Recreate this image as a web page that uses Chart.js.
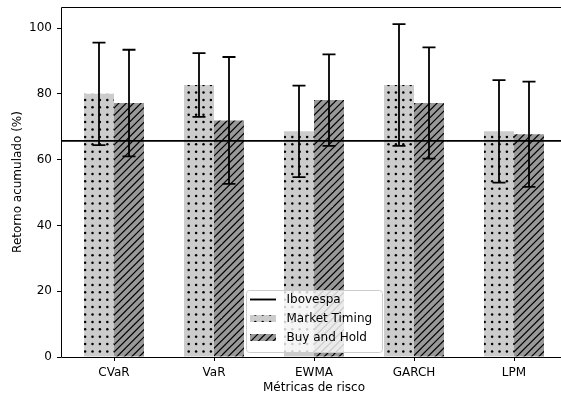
<!DOCTYPE html>
<html>
<head>
<meta charset="utf-8">
<script src="https://cdn.jsdelivr.net/npm/chart.js@4"></script>
<style>
  html, body { margin: 0; padding: 0; background: #fff; overflow: hidden; }
  #wrap { width: 561px; height: 395px; overflow: hidden; }
  canvas { display: block; }
</style>
</head>
<body>
<div id="wrap"><canvas id="chart" width="600" height="395"></canvas></div>
<script>
  // ---- data ----
  const categories = ['CVaR', 'VaR', 'EWMA', 'GARCH', 'LPM'];
  const mtValues = [80.0, 82.7, 68.6, 82.7, 68.6];   // Market Timing
  const mtErr = [15.6, 9.7, 13.9, 18.5, 15.6];
  const bhValues = [77.2, 71.9, 78.1, 77.2, 67.7];   // Buy and Hold
  const bhErr = [16.2, 19.3, 13.9, 16.9, 16.0];
  const ibovespa = 65.7;
  const yTicks = [0, 20, 40, 60, 80, 100];

  const FONT = '"DejaVu Sans", "Liberation Sans", sans-serif';

  // ---- hatch patterns (37px tile, 5 repeats of 7.4px) ----
  function makePattern(kind) {
    const c = document.createElement('canvas');
    c.width = 37; c.height = 37;
    const g = c.getContext('2d');
    const step = 7.4;
    if (kind === 'dots') {
      g.fillStyle = '#cccccc';
      g.fillRect(0, 0, 37, 37);
      g.fillStyle = '#000';
      for (let i = 0; i < 5; i++) {
        for (let j = 0; j < 5; j++) {
          g.beginPath();
          g.arc(i * step + 3.7, j * step + 3.7, 1.25, 0, Math.PI * 2);
          g.fill();
        }
      }
    } else {
      g.fillStyle = '#999999';
      g.fillRect(0, 0, 37, 37);
      g.strokeStyle = '#000';
      g.lineWidth = 1.2;
      for (let k = -1; k <= 11; k++) {
        const cst = k * step;
        g.beginPath();
        g.moveTo(cst + 1, -1);
        g.lineTo(cst - 38, 38);
        g.stroke();
      }
    }
    return g.createPattern(c, 'repeat');
  }

  const ctx0 = document.getElementById('chart').getContext('2d');
  const dotFill = makePattern('dots');
  const hatchFill = makePattern('hatch');

  const overlay = {
    id: 'overlay',
    afterDatasetsDraw(chart) {
      const { ctx, chartArea: a, scales: { y } } = chart;
      ctx.save();
      // Ibovespa reference line
      const yi = y.getPixelForValue(ibovespa);
      ctx.strokeStyle = '#000';
      ctx.lineWidth = 1.9;
      ctx.beginPath();
      ctx.moveTo(a.left, yi);
      ctx.lineTo(a.right, yi);
      ctx.stroke();

      // error bars
      [mtErr, bhErr].forEach((errs, di) => {
        const meta = chart.getDatasetMeta(di);
        const vals = di === 0 ? mtValues : bhValues;
        meta.data.forEach((bar, i) => {
          const top = y.getPixelForValue(vals[i] + errs[i]);
          const bot = y.getPixelForValue(vals[i] - errs[i]);
          ctx.lineWidth = 1.8;
          ctx.beginPath();
          ctx.moveTo(bar.x, top);
          ctx.lineTo(bar.x, bot);
          ctx.moveTo(bar.x - 6.5, top);
          ctx.lineTo(bar.x + 6.5, top);
          ctx.moveTo(bar.x - 6.5, bot);
          ctx.lineTo(bar.x + 6.5, bot);
          ctx.stroke();
        });
      });

      // axes spines: top, left, bottom (right one falls outside the picture)
      const l = Math.round(a.left) + 0.5, t = Math.round(a.top) + 0.5, b = Math.round(a.bottom) + 0.5;
      ctx.lineWidth = 1;
      ctx.strokeStyle = '#000';
      ctx.beginPath();
      ctx.moveTo(a.right, t);
      ctx.lineTo(l, t);
      ctx.lineTo(l, b);
      ctx.lineTo(a.right, b);
      ctx.stroke();
      ctx.restore();
    },
    afterDraw(chart) {
      // legend, lower center inside the axes
      const { ctx, chartArea: a } = chart;
      const w = 136, h = 62;
      const lx = (a.left + a.right) / 2 - w / 2;
      const ly = a.bottom - 5 - h;
      ctx.save();
      ctx.beginPath();
      ctx.roundRect(lx + 0.5, ly + 0.5, w, h, 3);
      ctx.fillStyle = 'rgba(255,255,255,0.8)';
      ctx.fill();
      ctx.strokeStyle = '#cccccc';
      ctx.lineWidth = 1;
      ctx.stroke();

      const hx = lx + 4, hw = 26, tx = lx + 40.5;
      const rows = [ly + 9.5, ly + 28.5, ly + 47.5];
      ctx.strokeStyle = '#000';
      ctx.lineWidth = 1.9;
      ctx.beginPath();
      ctx.moveTo(hx, rows[0]);
      ctx.lineTo(hx + hw, rows[0]);
      ctx.stroke();
      ctx.fillStyle = dotFill;
      ctx.fillRect(hx, rows[1] - 3.5, hw, 7);
      ctx.fillStyle = hatchFill;
      ctx.fillRect(hx, rows[2] - 3.5, hw, 7);

      ctx.fillStyle = '#000';
      ctx.font = '12px ' + FONT;
      ctx.textBaseline = 'middle';
      ctx.textAlign = 'left';
      ['Ibovespa', 'Market Timing', 'Buy and Hold'].forEach((t, i) => {
        ctx.fillText(t, tx, rows[i]);
      });
      ctx.restore();
    }
  };

  new Chart(ctx0, {
    type: 'bar',
    data: {
      datasets: [
        {
          label: 'Market Timing',
          data: mtValues.map((v, i) => ({ x: i, y: v })),
          backgroundColor: dotFill,
          borderWidth: 0,
        },
        {
          label: 'Buy and Hold',
          data: bhValues.map((v, i) => ({ x: i, y: v })),
          backgroundColor: hatchFill,
          borderWidth: 0,
        },
      ],
    },
    options: {
      responsive: false,
      animation: false,
      events: [],
      categoryPercentage: 0.6,
      barPercentage: 1.0,
      layout: { padding: { top: 7, right: 33, bottom: 0, left: 0 } },
      plugins: { legend: { display: false }, tooltip: { enabled: false } },
      scales: {
        x: {
          type: 'linear',
          min: -0.53,
          max: 4.53,
          offset: false,
          afterBuildTicks: s => { s.ticks = categories.map((_, i) => ({ value: i })); },
          afterFit: s => { s.height = 38; s.paddingLeft = 0; s.paddingRight = 0; },
          grid: { offset: false, drawOnChartArea: false, drawTicks: true, tickLength: 4, color: '#000' },
          border: { display: false },
          ticks: {
            callback: v => categories[v],
            color: '#000',
            font: { family: FONT, size: 12 },
            padding: 5,
            maxRotation: 0,
            autoSkip: false,
          },
          title: {
            display: true,
            text: 'Métricas de risco',
            color: '#000',
            font: { family: FONT, size: 12 },
            padding: { top: 0, bottom: 0 },
          },
        },
        y: {
          min: 0,
          max: 106.4,
          afterBuildTicks: s => { s.ticks = yTicks.map(v => ({ value: v })); },
          afterFit: s => { s.width = 61; s.paddingTop = 0; s.paddingBottom = 0; },
          grid: { drawOnChartArea: false, drawTicks: true, tickLength: 4, color: '#000' },
          border: { display: false },
          ticks: {
            color: '#000',
            font: { family: FONT, size: 12 },
            padding: 5,
          },
          title: {
            display: true,
            text: 'Retorno acumulado (%)',
            color: '#000',
            font: { family: FONT, size: 12 },
            padding: { top: 11, bottom: 0 },
          },
        },
      },
    },
    plugins: [overlay],
  });
</script>
</body>
</html>
